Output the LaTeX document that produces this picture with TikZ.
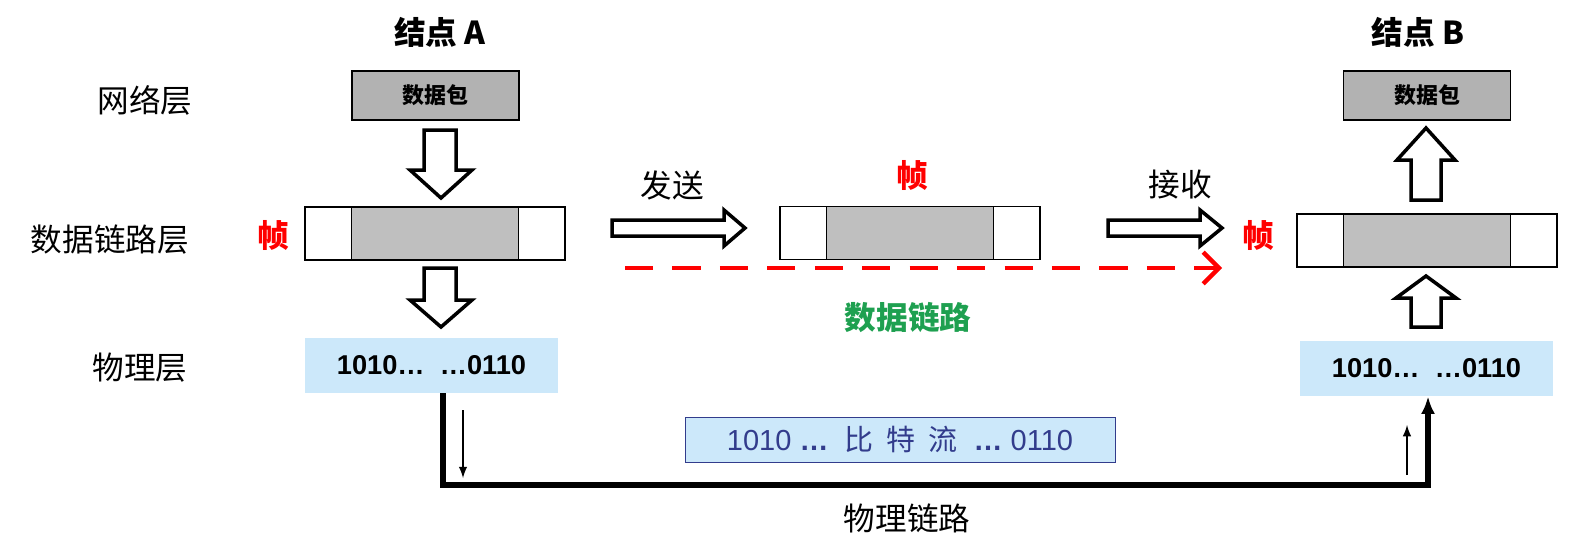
\documentclass[tikz,border=0pt]{standalone}
\usepackage{fontspec}
\setmainfont{Liberation Sans}
\newfontfamily\cjk{Noto Sans CJK SC}
\usetikzlibrary{calc}
\usetikzlibrary{arrows.meta}
\definecolor{bitblue}{RGB}{204,232,250}
\definecolor{linkgreen}{RGB}{30,160,80}
\definecolor{streamtxt}{RGB}{50,60,140}
\tikzset{>=latex}
\tikzset{
  layer/.style={font=\cjk\fontsize{18}{20}\selectfont},
  title/.style={font=\cjk\bfseries\fontsize{18}{20}\selectfont},
  redframe/.style={text=red,font=\cjk\bfseries\fontsize{18}{20}\selectfont},
  packet/.style={draw,line width=1pt,fill=black!30,minimum width=167*0.02cm,minimum height=49*0.02cm,font=\cjk\bfseries\fontsize{12.5}{14}\selectfont},
  frame/.style={draw,line width=1pt,fill=white,minimum width=260*0.02cm,minimum height=53*0.02cm},
  payload/.style={draw,line width=1pt,fill=black!25,minimum width=167*0.02cm,minimum height=53*0.02cm},
  bits/.style={fill=bitblue,minimum width=253*0.02cm,minimum height=55*0.02cm,font=\bfseries\fontsize{15.5}{18}\selectfont},
  hollow/.style={draw,line width=2pt,fill=white,line join=miter}
}
\begin{document}
\begin{tikzpicture}[x=0.02cm,y=-0.02cm]
                \useasboundingbox (0,0) rectangle (1594,552);

                % titles and layer names
                \node[title] (titleA) at (440,32) {结点 A};
                \node[title] (titleB) at (1418,32) {结点 B};
                \node[layer] (net) at (145,100) {网络层};
                \node[layer] (dll) at (110,240) {数据链路层};
                \node[layer] (phy) at (140,368) {物理层};

                % node A
                \node[packet] (pktA) at (435.5,95.5) {数据包};
                \node[frame] (frmA) at (435,233.5) {};
                \node[payload] (payA) at (frmA) {};
                \node[redframe] (fA) at (273,235) {帧};
                \node[bits] (bitsA) at (431.5,365.5) {1010…\ \ …0110};

                % middle frame
                \node[frame] (frmM) at (910,233) {};
                \node[payload] (payM) at (frmM) {};
                \node[redframe] (fM) at (912,175) {帧};
                \node[layer] (send) at (672,185) {发送};
                \node[layer] (recv) at (1180,185) {接收};
                \node[redframe] (fB) at (1258,235) {帧};
                \node[text=linkgreen,font=\cjk\bfseries\fontsize{18}{20}\selectfont] (dlink) at (908,318) {数据链路};

                % node B
                \node[packet] (pktB) at (1427,95.5) {数据包};
                \node[frame] (frmB) at (1427,240.5) {};
                \node[payload] (payB) at (frmB) {};
                \node[bits] (bitsB) at (1426.5,368.5) {1010…\ \ …0110};

                % bit stream
                \node[draw=streamtxt,fill=bitblue,minimum width=430*0.02cm,minimum height=45*0.02cm,text=streamtxt,font=\fontsize{16.5}{18}\selectfont] (stream) at (900,439.5) {1010 \textbf{…}\ \ {\cjk 比\ \ 特\ \ 流}\ \ \textbf{…} 0110};
                \node[layer] (plink) at (907,518) {物理链路};

                % hollow arrows
                \draw[hollow] (424,130) -- (456,130) -- (456,170) -- (472,170) -- (441,198) -- (410,170) -- (424,170) -- cycle;
                \draw[hollow] (424,268) -- (456,268) -- (456,300) -- (472,300) -- (441,327) -- (410,300) -- (424,300) -- cycle;
                \draw[hollow] (1411,200) -- (1441,200) -- (1441,160) -- (1455,160) -- (1426,128) -- (1397,160) -- (1411,160) -- cycle;
                \draw[hollow] (1411,327) -- (1441,327) -- (1441,298) -- (1456,298) -- (1426,276) -- (1396,298) -- (1411,298) -- cycle;
                \draw[hollow] (612,220) -- (724,220) -- (724,210) -- (745,228) -- (724,246) -- (724,236) -- (612,236) -- cycle;
                \draw[hollow] (1108,220) -- (1200,220) -- (1200,210) -- (1222,228) -- (1200,246) -- (1200,236) -- (1108,236) -- cycle;

                % data link
                \coordinate (dlS) at (625,268);
                \coordinate (dlE) at (1222,268);
                \draw[red,line width=2.5pt,dash pattern=on 16pt off 11pt,-{Straight Barb[length=9pt,width=18pt,line width=2.5pt]}] (dlS) -- (dlE);

                % physical link
                \coordinate (cornerA) at (443,485);
                \coordinate (cornerB) at (1428,485);
                \draw[line width=3pt,-{Latex[length=10pt,width=8pt]}] (bitsA.south -| cornerA) -- (cornerA) -- (cornerB) -- (bitsB.south -| cornerB);
                \coordinate (dnS) at (463,410);
                \coordinate (dnE) at (463,478);
                \draw[line width=1.2pt,->] (dnS) -- (dnE);
                \coordinate (upS) at (1407,475);
                \coordinate (upE) at (1407,425);
                \draw[line width=1.2pt,->] (upS) -- (upE);
\end{tikzpicture}
\end{document}
